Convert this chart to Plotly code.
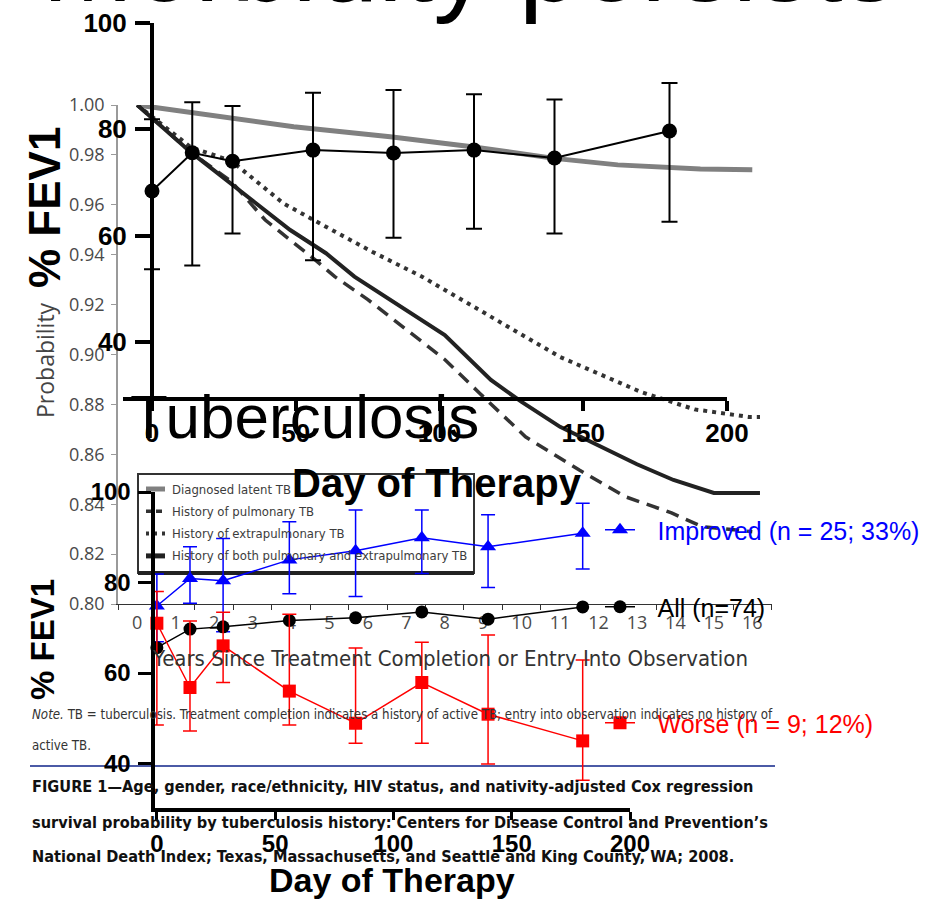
import plotly.graph_objects as go

W, H = 932, 900
def px(x): return x / W
def py(y): return 1 - y / H

# ---------------- data ----------------
# background survival figure (years since treatment completion, probability)
lat_t = [0, 2, 4.07, 6.58, 8.71, 10.85, 12.5, 14.65, 16.0]
lat_p = [1.0, 0.9957, 0.9913, 0.9873, 0.9833, 0.9786, 0.976, 0.9743, 0.974]
pul_t = [0, 1.4, 2.45, 3.33, 4.63, 5.14, 6, 7, 8, 8.9, 10.1, 11.5, 12.7, 13.9, 14.7, 16.0]
pul_p = [1.0, 0.981, 0.9693, 0.9539, 0.9379, 0.9312, 0.922, 0.910, 0.898, 0.8846, 0.867, 0.8537, 0.843, 0.8365, 0.831, 0.829]
ext_t = [0, 1.4, 2.45, 3.8, 4.91, 6.11, 7.41, 9, 11, 13.1, 14.5, 15.9, 16.2]
ext_p = [1.0, 0.983, 0.9776, 0.9606, 0.9512, 0.9412, 0.9312, 0.917, 0.899, 0.885, 0.878, 0.875, 0.875]
both_t = [0, 1.4, 3.98, 4.91, 5.65, 7, 8, 9.2, 10, 11, 12, 13, 13.95, 15, 16.2]
both_p = [1.0, 0.981, 0.9499, 0.9406, 0.9312, 0.918, 0.9078, 0.8898, 0.881, 0.871, 0.8637, 0.856, 0.8497, 0.8445, 0.8445]
surv_names = ["Diagnosed latent TB", "History of pulmonary TB",
              "History of extrapulmonary TB", "History of both pulmonary and extrapulmonary TB"]
year_ticks = list(range(0, 17))
prob_ticks = [0.80, 0.82, 0.84, 0.86, 0.88, 0.90, 0.92, 0.94, 0.96, 0.98, 1.00]

# top FEV1 chart
days = [0, 14, 28, 56, 84, 112, 140, 180]
top_mean = [68.4, 75.6, 74.0, 76.1, 75.55, 76.1, 74.6, 79.7]
top_hi = [81.9, 85.1, 84.4, 86.9, 87.4, 86.6, 85.6, 88.7]
top_lo = [53.7, 54.4, 60.4, 55.4, 59.6, 61.3, 60.4, 62.6]

# bottom FEV1 chart
imp_mean = [74.8, 80.9, 80.4, 85.0, 87.0, 89.9, 87.9, 90.9]
imp_hi = [81.9, 87.9, 89.7, 93.4, 96.0, 96.0, 95.0, 97.5]
imp_lo = [66.9, 75.4, 69.1, 77.5, 76.9, 82.0, 78.9, 83.0]
all_mean = [65.6, 69.7, 70.2, 71.6, 72.2, 73.5, 71.9, 74.6]
wor_mean = [71.0, 56.8, 66.0, 56.0, 48.9, 57.9, 50.9, 45.0]
wor_hi = [78.0, 71.5, 73.4, 73.0, 65.5, 66.8, 68.4, 62.9]
wor_lo = [48.5, 47.2, 57.9, 48.5, 44.5, 44.5, 39.9, 36.3]
fev_ticks = [40, 60, 80, 100]
day_ticks = [0, 50, 100, 150, 200]
series_names = ["Improved (n = 25; 33%)", "All (n=74)", "Worse (n = 9; 12%)"]

ARIAL = "Liberation Sans, Arial, sans-serif"
COND = "DejaVu Sans Condensed, DejaVu Sans, sans-serif"
MYRIAD = "Open Sans, sans-serif"
GAP = "\u2002\u2009"  # gap between legend symbol and legend text

def err(m, hi, lo):
    return [h - v for v, h in zip(m, hi)], [v - l for v, l in zip(m, lo)]

def cfont(size, color, weight="normal"):
    return dict(family=COND, size=size, color=color, weight=weight)

fig = go.Figure()

# background survival curves
styles = [dict(color="#808080", width=5),
          dict(color="#333333", width=3.5, dash="13px,8px"),
          dict(color="#333333", width=4, dash="4px,5px"),
          dict(color="#222222", width=4)]
for (t, p), nm, st in zip([(lat_t, lat_p), (pul_t, pul_p), (ext_t, ext_p), (both_t, both_p)],
                          surv_names, styles):
    fig.add_trace(go.Scatter(x=t, y=p, xaxis="x", yaxis="y", mode="lines", name=nm,
                             line=st, showlegend=False, hoverinfo="skip"))

# top chart
up, dn = err(top_mean, top_hi, top_lo)
fig.add_trace(go.Scatter(x=days, y=top_mean, xaxis="x2", yaxis="y2", mode="lines+markers",
                         line=dict(color="black", width=2), marker=dict(color="black", size=15),
                         error_y=dict(type="data", symmetric=False, array=up, arrayminus=dn,
                                      color="black", thickness=2, width=8),
                         showlegend=False, cliponaxis=False, name="FEV1"))

# bottom chart
up, dn = err(imp_mean, imp_hi, imp_lo)
fig.add_trace(go.Scatter(x=days, y=imp_mean, xaxis="x3", yaxis="y3", mode="lines+markers",
                         name=GAP + series_names[0],
                         line=dict(color="#0000ff", width=1.5),
                         marker=dict(color="#0000ff", size=14, symbol="triangle-up"),
                         error_y=dict(type="data", symmetric=False, array=up, arrayminus=dn,
                                      color="#0000ff", thickness=1.5, width=7),
                         cliponaxis=False, legend="legend"))
fig.add_trace(go.Scatter(x=days, y=all_mean, xaxis="x3", yaxis="y3", mode="lines+markers",
                         name=GAP + series_names[1],
                         line=dict(color="black", width=1.5),
                         marker=dict(color="black", size=13, symbol="circle"),
                         cliponaxis=False, legend="legend2"))
up, dn = err(wor_mean, wor_hi, wor_lo)
fig.add_trace(go.Scatter(x=days, y=wor_mean, xaxis="x3", yaxis="y3", mode="lines+markers",
                         name=GAP + series_names[2],
                         line=dict(color="#ff0000", width=1.5),
                         marker=dict(color="#ff0000", size=13, symbol="square"),
                         error_y=dict(type="data", symmetric=False, array=up, arrayminus=dn,
                                      color="#ff0000", thickness=1.5, width=7),
                         cliponaxis=False, legend="legend3"))

bold = lambda s, c="black": dict(family=ARIAL, size=s, color=c, weight="bold")

layout = dict(
    width=W, height=H, margin=dict(l=0, r=0, t=0, b=0, autoexpand=False),
    paper_bgcolor="white", plot_bgcolor="rgba(0,0,0,0)",
    xaxis=dict(domain=[px(118), px(771.5)], range=[-0.5, 16.5], anchor="y",
               showline=True, linecolor="#333333", linewidth=1.2, showgrid=False, zeroline=False,
               tickmode="array", tickvals=year_ticks, ticks="", ticklabelstandoff=2,
               tickfont=dict(family=MYRIAD, size=18, color="#4a4a4a"),
               minor=dict(tick0=0.5, dtick=1, ticks="outside", ticklen=5, tickcolor="#333333",
                          tickwidth=1, showgrid=False)),
    yaxis=dict(domain=[py(604), py(105)], range=[0.8, 1.0], anchor="x",
               showline=True, linecolor="#9a9a9a", linewidth=1.5, showgrid=False, zeroline=False,
               tickmode="array", tickvals=prob_ticks, ticktext=[f"{v:.2f}" for v in prob_ticks],
               ticks="outside", ticklen=5, tickcolor="#9a9a9a", tickwidth=1, ticklabelstandoff=3,
               tickfont=dict(family=MYRIAD, size=18, color="#4a4a4a")),
    xaxis2=dict(domain=[px(123), px(727)], range=[-10.09, 200], anchor="y2",
                showline=True, linecolor="black", linewidth=4, showgrid=False, zeroline=False,
                tickmode="array", tickvals=day_ticks, ticks="outside", ticklen=10, tickwidth=4,
                tickcolor="black", ticklabelstandoff=0, tickfont=bold(26)),
    yaxis2=dict(domain=[py(397), py(23)], range=[29.66, 100], anchor="free", position=px(152),
                showline=True, linecolor="black", linewidth=4, showgrid=False, zeroline=False,
                tickmode="array", tickvals=fev_ticks, ticks="outside", ticklen=15, tickwidth=4,
                tickcolor="black", ticklabelstandoff=3, tickfont=bold(26)),
    xaxis3=dict(domain=[px(154.5), px(630)], range=[-1, 200], anchor="y3",
                showline=True, linecolor="black", linewidth=4, showgrid=False, zeroline=False,
                tickmode="array", tickvals=day_ticks, ticks="outside", ticklen=8, tickwidth=3,
                tickcolor="black", ticklabelstandoff=3, tickfont=bold(24)),
    yaxis3=dict(domain=[py(808), py(492)], range=[30.17, 100], anchor="x3",
                showline=True, linecolor="black", linewidth=4, showgrid=False, zeroline=False,
                tickmode="array", tickvals=fev_ticks, ticks="outside", ticklen=13, tickwidth=3,
                tickcolor="black", ticklabelstandoff=2, tickfont=bold(24)),
)

def leg(y, color):
    return dict(x=px(600), y=py(y), xanchor="left", yanchor="middle", bgcolor="rgba(0,0,0,0)",
                borderwidth=0, itemwidth=30, font=dict(family=ARIAL, size=25, color=color))

layout["legend"] = leg(530, "#0000ff")
layout["legend2"] = leg(607, "black")
layout["legend3"] = leg(723, "#ff0000")

ann = []
def A(text, x, y, font, xanchor="center", yanchor="middle", angle=0):
    ann.append(dict(text=text, x=px(x), y=py(y), xref="paper", yref="paper", showarrow=False,
                    xanchor=xanchor, yanchor=yanchor, textangle=angle, font=font))

A("Morbidity persists", 40, 26, dict(family=ARIAL, size=110, color="black"), "left", "bottom")
A("Probability", 45, 360, dict(family=MYRIAD, size=23, color="#444444"), angle=-90)
A("Years Since Treatment Completion or Entry Into Observation", 450, 658, cfont(22, "#333333"))
for i, nm in enumerate(surv_names):
    A(nm, 170, 489 + 22.3 * i, cfont(13, "#3c3c3c"), "left")
A("<i>Note.</i> TB = tuberculosis. Treatment completion indicates a history of active TB; "
  "entry into observation indicates no history of", 30, 714, cfont(13.2, "#333333"), "left")
A("active TB.", 30, 745, cfont(13.2, "#333333"), "left")
cap = ["FIGURE 1—Age, gender, race/ethnicity, HIV status, and nativity-adjusted Cox regression",
       "survival probability by tuberculosis history: Centers for Disease Control and Prevention’s",
       "National Death Index; Texas, Massachusetts, and Seattle and King County, WA; 2008."]
for s, yy in zip(cap, [786, 822, 856]):
    A(s, 30, yy, cfont(16.2, "#111111", "bold"), "left")
A("Tuberculosis", 128, 453, dict(family=ARIAL, size=62, color="black"), "left", "bottom")
A("% FEV1", 45, 208, bold(44), angle=-90)
A("Day of Therapy", 437, 483, bold(40))
A("% FEV1", 42, 640, bold(33), angle=-90)
A("Day of Therapy", 392, 880, bold(34))
layout["annotations"] = ann

shapes = [
    dict(type="rect", xref="paper", yref="paper", x0=px(138), x1=px(474), y0=py(474), y1=py(573),
         line=dict(color="#333333", width=2), layer="below"),
    dict(type="line", xref="paper", yref="paper", x0=px(138), x1=px(474), y0=py(573), y1=py(573),
         line=dict(color="#222222", width=4), layer="below"),
    dict(type="line", xref="paper", yref="paper", x0=px(30), x1=px(775), y0=py(766), y1=py(766),
         line=dict(color="#4b5aa6", width=2), layer="below"),
]
sym_styles = [dict(color="#808080", width=5), dict(color="#333333", width=3.5, dash="6px,4px"),
              dict(color="#333333", width=4, dash="3px,5px"), dict(color="#222222", width=5)]
for i, st in enumerate(sym_styles):
    yy = 489 + 22.3 * i
    shapes.append(dict(type="line", xref="paper", yref="paper", x0=px(146), x1=px(165),
                       y0=py(yy), y1=py(yy), line=st, layer="below"))
layout["shapes"] = shapes

fig.update_layout(**layout)
fig.write_html("out.html")
